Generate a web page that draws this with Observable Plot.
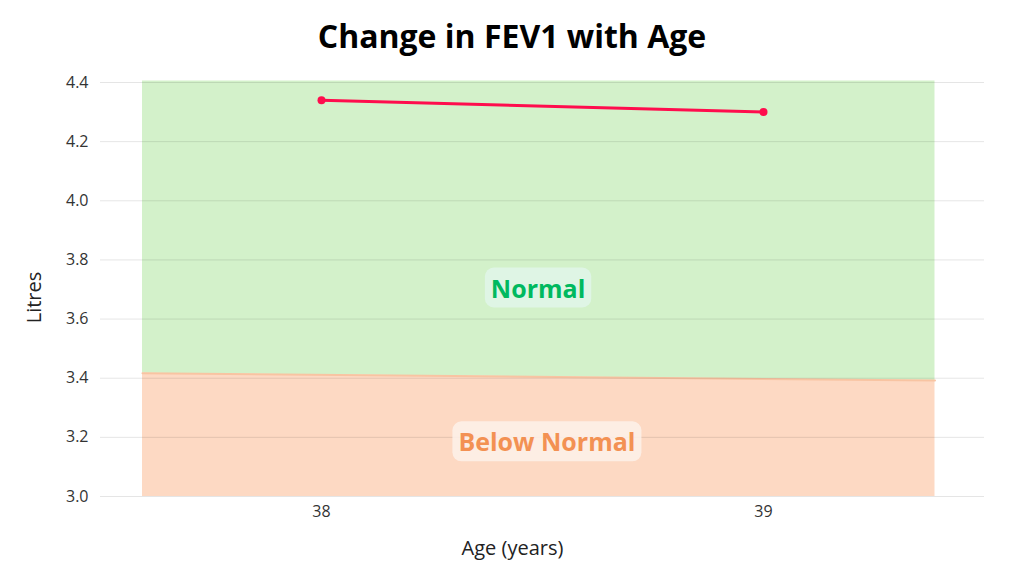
<!DOCTYPE html>
<html><head><meta charset="utf-8">
<script src="https://cdn.jsdelivr.net/npm/d3@7"></script>
<script src="https://cdn.jsdelivr.net/npm/@observablehq/plot@0.6"></script>
<style>
body{margin:0;background:#fff;width:1024px;height:576px;overflow:hidden;font-family:"Open Sans",sans-serif;}
#title{height:60px;display:flex;align-items:center;justify-content:center;font-family:"Open Sans",sans-serif;font-weight:700;font-size:32px;color:#000;padding-top:10px;box-sizing:border-box;}
</style></head>
<body>
<div id="title">Change in FEV1 with Age</div>
<div id="chart"></div>
<script>
const ages = [38, 39];
const fev1 = [4.34, 4.30];
const bandX = [37.595, 39.388];
const lowerLimit = [3.417, 3.392];
const bandTop = 4.405;
const bandBottom = 3.0;
const yTicks = [3.0, 3.2, 3.4, 3.6, 3.8, 4.0, 4.2, 4.4];
const zoneNames = ["Normal", "Below Normal"];
const zoneX = [38.49, 38.51];
const zoneY = [3.70, 3.18];
const zoneColors = ["#00b95f", "#f39153"];
const zoneBg = ["#e1f6ea", "#fdf1ea"];

const band = bandX.map((x, i) => ({x, lln: lowerLimit[i], top: bandTop, bottom: bandBottom}));
const series = ages.map((a, i) => ({age: a, v: fev1[i]}));
const zones = zoneNames.map((n, i) => ({name: n, x: zoneX[i], y: zoneY[i], c: zoneColors[i], bg: zoneBg[i]}));

const plot = Plot.plot({
  width: 1024,
  height: 516,
  marginLeft: 100,
  marginRight: 40,
  marginTop: 22,
  marginBottom: 80,
  style: {fontFamily: "'Open Sans', sans-serif", fontSize: "16px", color: "#333", background: "transparent"},
  x: {domain: [37.5, 39.5], ticks: ages, tickFormat: d => String(d), tickSize: 0, tickPadding: 9, label: "Age (years)", labelArrow: "none", labelAnchor: "center", labelOffset: 58},
  y: {domain: [3.0, 4.4], ticks: yTicks, tickFormat: d3.format(".1f"), tickSize: 0, tickPadding: 12, label: "Litres", labelArrow: "none", labelAnchor: "center", labelOffset: 74},
  marks: [
    Plot.areaY(band, {x: "x", y1: "lln", y2: "top", fill: "#d3f1ca"}),
    Plot.areaY(band, {x: "x", y1: "bottom", y2: "lln", fill: "#fdd9c3"}),
    Plot.lineY(band, {x: "x", y: "lln", stroke: "#f8c4a2", strokeWidth: 2}),
    Plot.gridY(yTicks, {stroke: "#000", strokeOpacity: 0.1, strokeWidth: 1}),
    Plot.line(series, {x: "age", y: "v", stroke: "#ff0d4d", strokeWidth: 3}),
    Plot.dot(series, {x: "age", y: "v", fill: "#ff0d4d", r: 4}),
    Plot.text(zones, {x: "x", y: "y", text: "name", fill: "c", fontSize: 25, fontWeight: "bold", fontFamily: "'Open Sans', sans-serif", className: "zonelabel"})
  ]
});
document.getElementById("chart").appendChild(plot);

function nudge(sel, dx, dy) {
  const el = plot.querySelector(sel);
  if (!el) return;
  el.style.fontSize = "20px";
  el.querySelectorAll("text").forEach(t => t.style.fill = "#222");
  const wrap = document.createElementNS("http://www.w3.org/2000/svg", "g");
  wrap.setAttribute("transform", `translate(${dx},${dy})`);
  el.parentNode.insertBefore(wrap, el);
  wrap.appendChild(el);
}
nudge("[aria-label='x-axis label']", -30, 0);
nudge("[aria-label='y-axis label']", 0, 8);

const g = plot.querySelector(".zonelabel");
if (g) {
  g.querySelectorAll("text").forEach((t, i) => {
    const b = t.getBBox();
    const r = document.createElementNS("http://www.w3.org/2000/svg", "rect");
    const padX = 6, padY = 3;
    r.setAttribute("x", b.x - padX);
    r.setAttribute("y", b.y - padY);
    r.setAttribute("width", b.width + 2 * padX);
    r.setAttribute("height", b.height + 2 * padY);
    r.setAttribute("rx", 9);
    r.setAttribute("fill", zones[i].bg);
    r.setAttribute("fill-opacity", 0.85);
    const tr = t.getAttribute("transform");
    if (tr) r.setAttribute("transform", tr);
    t.parentNode.insertBefore(r, t);
  });
}
</script>
</body></html>
